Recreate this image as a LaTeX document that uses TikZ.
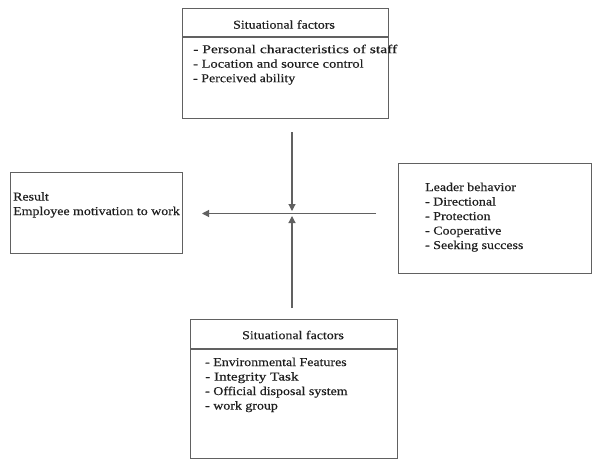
\documentclass[tikz,border=0pt]{standalone}
\usepackage{graphicx}
\usepackage{fontspec}
\setmainfont{Liberation Serif}[FakeStretch=1.16,FakeBold=0.35]
\usetikzlibrary{arrows.meta}
\definecolor{linegray}{gray}{0.38}
\definecolor{txt}{gray}{0.12}
\newcommand{\wideline}[2]{\scalebox{#1}[1]{#2}}
\tikzset{
  box/.style={draw=linegray, line width=1.2pt, inner sep=0pt, anchor=north west},
  txtblock/.style={anchor=north west, inner sep=0pt, align=left, text=txt,
    font=\fontsize{12}{14.5}\selectfont},
  head/.style={inner sep=0pt, text=txt, font=\fontsize{12}{14}\selectfont},
  arr/.style={draw=linegray, line width=1.1pt, -{Triangle[length=7pt,width=7pt]}},
  divider/.style={draw=linegray, line width=1.2pt}
}
\begin{document}
\begin{tikzpicture}[x=1pt,y=-1pt]
\useasboundingbox[fill=white] (0,0) rectangle (595,461);
% top box
\node[box, minimum width=206pt, minimum height=110pt] (topbox) at (182,8) {};
\draw[divider] ([yshift=-29pt]topbox.north west) -- ([yshift=-29pt]topbox.north east);
\node[head] (tophead) at (284,24.5) {Situational factors};
\node[txtblock] (toptext) at (193,44.5) {\wideline{1.12}{- Personal characteristics of staff}\\\wideline{1.04}{- Location and source control}\\- Perceived ability};
% result box
\node[box, minimum width=172pt, minimum height=81pt] (resbox) at (10,172) {};
\node[txtblock] (restext) at (13,192) {Result\\Employee motivation to work};
% leader box
\node[box, minimum width=193pt, minimum height=110pt] (leadbox) at (398,163) {};
\node[txtblock] (leadtext) at (425,182.5) {Leader behavior\\- Directional\\- Protection\\- Cooperative\\- Seeking success};
% bottom box
\node[box, minimum width=207pt, minimum height=139pt] (botbox) at (190,319) {};
\draw[divider] ([yshift=-30pt]botbox.north west) -- ([yshift=-30pt]botbox.north east);
\node[head] (bothead) at (293,335) {Situational factors};
\node[txtblock] (bottext) at (205,357.5) {- Environmental Features\\\wideline{1.09}{- Integrity Task}\\- Official disposal system\\- work group};
% arrows
\coordinate (tstart) at (292,132);
\coordinate (ttip) at (292,211);
\coordinate (bstart) at (292,308);
\coordinate (btip) at (292,216);
\coordinate (hstart) at (376,213.5);
\coordinate (htip) at (202,213.5);
\draw[arr] (tstart) -- (ttip);
\draw[arr] (bstart) -- (btip);
\draw[arr] (hstart) -- (htip);
\end{tikzpicture}
\end{document}
